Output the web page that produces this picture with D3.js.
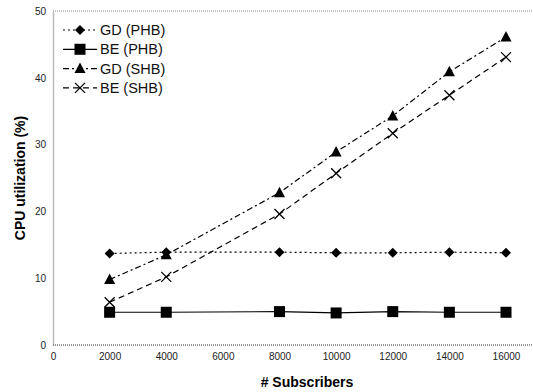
<!DOCTYPE html>
<html><head><meta charset="utf-8">
<script src="https://cdn.jsdelivr.net/npm/d3@7/dist/d3.min.js"></script>
<style>body{margin:0;background:#fff;} text{font-family:Arial,"Liberation Sans",sans-serif;}</style>
</head><body><svg id="c" width="533" height="392"></svg>
<script>
const subscribers = [2000, 4000, 8000, 10000, 12000, 14000, 16000];
const gdPHB = [13.7, 13.9, 13.9, 13.8, 13.8, 13.9, 13.8];
const bePHB = [4.9, 4.9, 5.0, 4.8, 5.0, 4.9, 4.9];
const gdSHB = [9.8, 13.5, 22.8, 28.9, 34.3, 40.9, 46.1];
const beSHB = [6.4, 10.2, 19.6, 25.7, 31.7, 37.4, 43.1];
const xTicks = [0, 2000, 4000, 6000, 8000, 10000, 12000, 14000, 16000];
const yTicks = [0, 10, 20, 30, 40, 50];
const seriesNames = ["GD (PHB)", "BE (PHB)", "GD (SHB)", "BE (SHB)"];

const svg = d3.select("#c");
const x = d3.scaleLinear().domain([0, 16000]).range([53, 506]);
const y = d3.scaleLinear().domain([0, 50]).range([345, 11]);

// frame
svg.append("line").attr("x1", 53).attr("x2", 533).attr("y1", 11).attr("y2", 11)
  .attr("stroke", "#888").attr("stroke-dasharray", "1,1");
const xAxis = svg.append("g").attr("transform", "translate(0,345)")
  .call(d3.axisBottom(x).tickValues(xTicks).tickSize(0).tickPadding(8).tickFormat(d3.format("d")));
xAxis.select(".domain").attr("d", "M53,0H533").attr("stroke", "#777").attr("stroke-dasharray", "1,1").attr("stroke-width", 1.5);
xAxis.selectAll("text").attr("font-size", 10).attr("fill", "#222");
const yAxis = svg.append("g").attr("transform", "translate(53,0)")
  .call(d3.axisLeft(y).tickValues(yTicks).tickSize(0).tickPadding(7));
yAxis.select(".domain").attr("stroke", "#777").attr("stroke-dasharray", "1,1").attr("stroke-width", 1.5);
yAxis.selectAll("text").attr("font-size", 10).attr("fill", "#222");

svg.append("text").attr("x", 307).attr("y", 387).attr("text-anchor", "middle")
  .attr("font-size", 14).attr("font-weight", "bold").text("# Subscribers");
svg.append("text").attr("transform", "translate(25,178) rotate(-90)").attr("text-anchor", "middle")
  .attr("font-size", 14).attr("font-weight", "bold").text("CPU utilization (%)");

const series = [
  {name: seriesNames[0], vals: gdPHB, dash: "2,3", sym: "diamond"},
  {name: seriesNames[1], vals: bePHB, dash: null, sym: "square"},
  {name: seriesNames[2], vals: gdSHB, dash: "6,3,2,3", sym: "triangle"},
  {name: seriesNames[3], vals: beSHB, dash: "6,4", sym: "x"}
];

function drawSym(g, sym, cx, cy) {
  if (sym === "diamond") {
    g.append("path").attr("d", `M${cx},${cy-5}L${cx+5},${cy}L${cx},${cy+5}L${cx-5},${cy}Z`).attr("fill", "#000");
  } else if (sym === "square") {
    g.append("rect").attr("x", cx-5.5).attr("y", cy-5.5).attr("width", 11).attr("height", 11).attr("fill", "#000");
  } else if (sym === "triangle") {
    g.append("path").attr("d", `M${cx},${cy-6}L${cx+5.5},${cy+4.5}L${cx-5.5},${cy+4.5}Z`).attr("fill", "#000");
  } else {
    g.append("path").attr("d", `M${cx-5},${cy-5}L${cx+5},${cy+5}M${cx+5},${cy-5}L${cx-5},${cy+5}`)
      .attr("stroke", "#000").attr("stroke-width", 1.3).attr("fill", "none");
  }
}

const line = d3.line().x((d, i) => x(subscribers[i])).y(d => y(d));
series.forEach(s => {
  svg.append("path").datum(s.vals).attr("d", line).attr("fill", "none")
    .attr("stroke", "#000").attr("stroke-width", 1.2).attr("stroke-dasharray", s.dash);
  const g = svg.append("g");
  s.vals.forEach((v, i) => drawSym(g, s.sym, x(subscribers[i]), y(v)));
});

// legend
series.forEach((s, i) => {
  const ly = 30 + i * 19.3;
  svg.append("line").attr("x1", 63).attr("x2", 97).attr("y1", ly).attr("y2", ly)
    .attr("stroke", "#000").attr("stroke-width", 1.2).attr("stroke-dasharray", s.dash);
  drawSym(svg.append("g"), s.sym, 80, ly);
  svg.append("text").attr("x", 100).attr("y", ly + 5).attr("font-size", 14.5).attr("fill", "#111").text(s.name);
});
</script></body></html>
